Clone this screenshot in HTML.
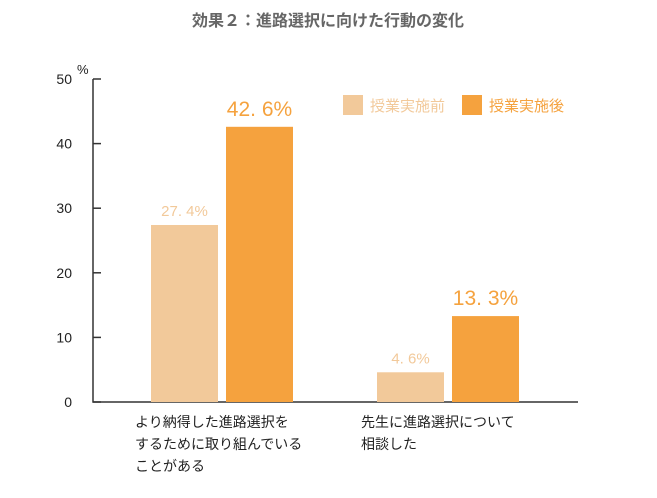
<!DOCTYPE html>
<html><head><meta charset="utf-8"><style>
body{margin:0;background:#fff;width:657px;height:493px;overflow:hidden}
svg{font-family:"Liberation Sans","Noto Sans CJK JP",sans-serif}
</style></head><body>
<svg id="chart" width="657" height="493">
<text x="328" y="26" text-anchor="middle" font-size="16" font-weight="bold" fill="#666">効果２：進路選択に向けた行動の変化</text>
<text x="77" y="74" font-size="13" fill="#222">%</text>
<g id="legend">
<rect x="343" y="95" width="20" height="20" fill="#f2c99a"/>
<text x="370" y="111" font-size="15" fill="#f2c99a">授業実施前</text>
<rect x="462" y="95" width="20" height="20" fill="#f5a23e"/>
<text x="489" y="111" font-size="15" fill="#f5a23e">授業実施後</text>
</g>
</svg>
<script>
const categories=[["より納得した進路選択を","するために取り組んでいる","ことがある"],["先生に進路選択について","相談した"]];
const before=[27.4,4.6];
const after=[42.6,13.3];
const ticks=[0,10,20,30,40,50];
const svg=document.getElementById('chart');
const NS='http://www.w3.org/2000/svg';
const y0=402,yTop=79,yMax=50;
const y=v=>y0-(v/yMax)*(y0-yTop);
const groupX=i=>151+i*226;
function mk(t,a){const e=document.createElementNS(NS,t);for(const k in a)e.setAttribute(k,a[k]);svg.appendChild(e);return e;}
const ax=mk('path',{d:`M93 ${yTop}V${y0}H578`,stroke:'#333','stroke-width':1.5,fill:'none'});


ticks.forEach(t=>{
 const l=mk('line',{x1:93,x2:101,y1:y(t),y2:y(t),stroke:'#333','stroke-width':1.5});
 
 
 const tx=mk('text',{x:72,y:y(t)+5,'text-anchor':'end','font-size':14,fill:'#222'});
 tx.textContent=t;
 
 
});
categories.forEach((c,i)=>{
 const gx=groupX(i);
 const b=mk('rect',{x:gx,y:y(before[i]),width:67,height:y0-y(before[i]),fill:'#f2c99a'});
 
 
 const a=mk('rect',{x:gx+75,y:y(after[i]),width:67,height:y0-y(after[i]),fill:'#f5a23e'});
 
 
 const lb=mk('text',{x:gx+33.5,y:y(before[i])-9,'text-anchor':'middle','font-size':15,fill:'#f2c99a'});
 lb.textContent=before[i].toFixed(1).replace('.','. ')+'%';
 
 
 const la=mk('text',{x:gx+108.5,y:y(after[i])-11,'text-anchor':'middle','font-size':21,fill:'#f5a23e'});
 la.textContent=after[i].toFixed(1).replace('.','. ')+'%';
 
 
 c.forEach((line,j)=>{
  const t=mk('text',{x:gx-16,y:427+j*22,'font-size':14,fill:'#222'});
  t.textContent=line;
  
  
 });
});
</script>
</body></html>
